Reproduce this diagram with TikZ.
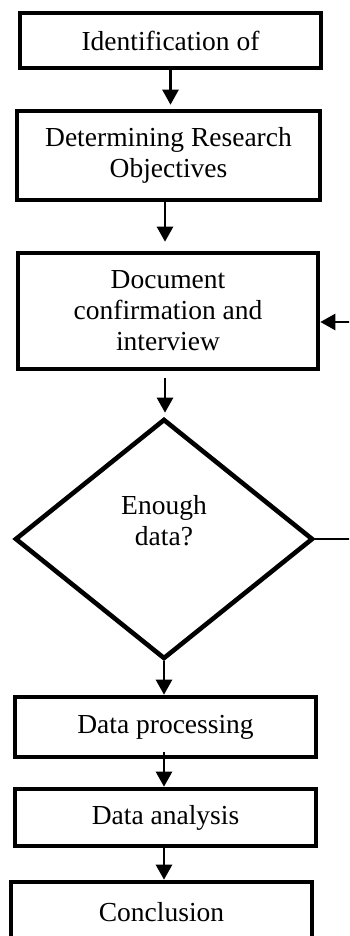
\documentclass[tikz,border=0pt]{standalone}
\usepackage{fontspec}
\setmainfont{Liberation Serif}
\usetikzlibrary{arrows.meta,shapes.geometric}
\begin{document}
\begin{tikzpicture}[x=1pt,y=-1pt,
  box/.style={draw,line width=4.6pt,rectangle,inner sep=0pt,align=center,
    font=\fontsize{27.5}{31}\selectfont},
  decision/.style={draw,line width=4.6pt,diamond,inner sep=0pt},
  label/.style={inner sep=0pt,align=center,font=\fontsize{27.5}{31}\selectfont},
  flow/.style={line width=2.5pt,-{Triangle[length=15pt,width=16pt]}},
  thinline/.style={line width=1.2pt}]
\useasboundingbox (0,0) rectangle (349,936);
\clip (0,0) rectangle (349,936);
\fill[white] (0,0) rectangle (349,936);
\node[box,minimum width=301pt,minimum height=55pt] (b1) at (170.5,40.5) {Identification of};
\node[box,minimum width=303pt,minimum height=89pt] (b2) at (168.5,155.5) {Determining Research\\Objectives};
\node[box,minimum width=300pt,minimum height=116pt] (b3) at (168,311) {Document\\confirmation and\\interview};
\node[decision,minimum width=298pt,minimum height=240pt] (d) at (164,539) {};
\node[label] (dt) at (164,521) {Enough\\data?};
\node[box,minimum width=301pt,minimum height=60pt] (b4) at (165.5,727) {Data processing};
\node[box,minimum width=301pt,minimum height=57pt] (b5) at (165.5,817.5) {Data analysis};
\node[box,minimum width=301pt,minimum height=60pt] (b6) at (161.5,912) {Conclusion};
\coordinate (fa) at (354,540);
\coordinate (fb) at (354,322);
\draw[flow,shorten >=4pt] (b1.south) -- (b1.south |- b2.north);
\draw[flow,shorten >=9pt] ([xshift=-3.5pt]b2.south) -- ([xshift=-3.5pt]b2.south |- b3.north);
\draw[flow,shorten <=7pt,shorten >=4pt] ([xshift=-3pt]b3.south) -- ([xshift=-3pt]b3.south |- d.north);
\draw[flow] (d.south) -- (d.south |- b4.north);
\draw[flow,shorten <=-7pt] ([xshift=-1.5pt]b4.south) -- ([xshift=-1.5pt]b4.south |- b5.north);
\draw[flow] ([xshift=-1.5pt]b5.south) -- ([xshift=-1.5pt]b5.south |- b6.north);
\draw[thinline] (d.east) -- (d.east -| fa) -- (fb);
\draw[flow] (fb) -- (fb -| b3.east);
\end{tikzpicture}
\end{document}
